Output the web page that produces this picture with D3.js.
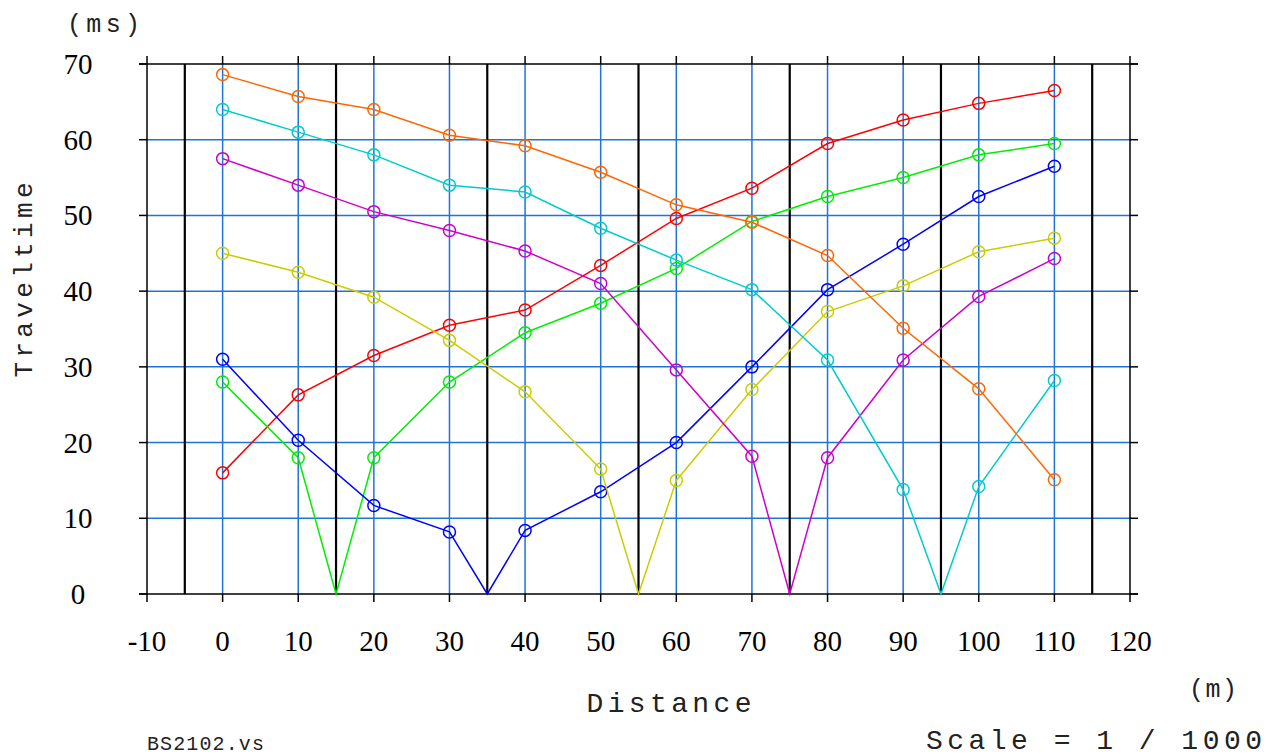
<!DOCTYPE html>
<html><head><meta charset="utf-8">
<script src="https://cdn.jsdelivr.net/npm/d3@7"></script>
<style>body{margin:0;background:#fff}svg{display:block}</style>
</head><body>
<svg id="c" width="1266" height="756"></svg>
<script>
const xTicks = [-10,0,10,20,30,40,50,60,70,80,90,100,110,120];
const yTicks = [0,10,20,30,40,50,60,70];
const shotPoints = [-5,15,35,55,75,95,115];
const gridX = [0,10,20,30,40,50,60,70,80,90,100,110];
const gridY = [10,20,30,40,50,60];

const redX = [0,10,20,30,40,50,60,70,80,90,100,110];
const redY = [16,26.3,31.5,35.5,37.5,43.4,49.6,53.6,59.5,62.6,64.8,66.5];
const greenX = [0,10,15,20,30,40,50,60,70,80,90,100,110];
const greenY = [28,18,0,18,28,34.5,38.4,43,49.2,52.5,55,58,59.5];
const blueX = [0,10,20,30,35,40,50,60,70,80,90,100,110];
const blueY = [31,20.3,11.7,8.2,0,8.4,13.5,20,30,40.2,46.2,52.5,56.5];
const yellowX = [0,10,20,30,40,50,55,60,70,80,90,100,110];
const yellowY = [45,42.5,39.2,33.5,26.7,16.5,0,15,27,37.3,40.7,45.2,47];
const magentaX = [0,10,20,30,40,50,60,70,75,80,90,100,110];
const magentaY = [57.5,54,50.5,48,45.3,41,29.6,18.2,0,18,30.9,39.3,44.3];
const cyanX = [0,10,20,30,40,50,60,70,80,90,95,100,110];
const cyanY = [64,61,58,54,53.1,48.3,44.1,40.2,30.9,13.8,0,14.2,28.2];
const orangeX = [0,10,20,30,40,50,60,70,80,90,100,110];
const orangeY = [68.6,65.7,64,60.6,59.2,55.7,51.4,49.1,44.7,35.1,27.1,15.1];

const series = [
  {x:redX, y:redY, color:"#ff0000"},
  {x:greenX, y:greenY, color:"#00ee00"},
  {x:blueX, y:blueY, color:"#0000ff"},
  {x:yellowX, y:yellowY, color:"#cccc00"},
  {x:magentaX, y:magentaY, color:"#cc00cc"},
  {x:cyanX, y:cyanY, color:"#00cccc"},
  {x:orangeX, y:orangeY, color:"#ff6600"}
];

const svg = d3.select("#c");
const x = d3.scaleLinear().domain([-10,120]).range([147,1130]);
const y = d3.scaleLinear().domain([0,70]).range([594,64]);
const x0 = x(-10), x1 = x(120), y0 = y(0), y1 = y(70);
const stub = 8;
const gridColor = "#1f74d6";

// blue grid
svg.append("g").selectAll("line").data(gridX).join("line")
  .attr("x1", d=>x(d)).attr("x2", d=>x(d)).attr("y1", y1).attr("y2", y0)
  .attr("stroke", gridColor).attr("stroke-width", 1.5);
svg.append("g").selectAll("line").data(gridY).join("line")
  .attr("x1", x0).attr("x2", x1).attr("y1", d=>y(d)).attr("y2", d=>y(d))
  .attr("stroke", gridColor).attr("stroke-width", 1.5);

// tick stubs
const tg = svg.append("g").attr("stroke","#000").attr("stroke-width",1.5);
tg.selectAll(".yl").data(yTicks).join("line")
  .attr("x1", x0-stub).attr("x2", x0).attr("y1", d=>y(d)).attr("y2", d=>y(d));
tg.selectAll(".yr").data(yTicks).join("line").attr("class","yr")
  .attr("x1", x1).attr("x2", x1+stub).attr("y1", d=>y(d)).attr("y2", d=>y(d));
tg.selectAll(".xt").data(xTicks).join("line").attr("class","xt")
  .attr("x1", d=>x(d)).attr("x2", d=>x(d)).attr("y1", y1-stub).attr("y2", y1);
tg.selectAll(".xb").data(xTicks).join("line").attr("class","xb")
  .attr("x1", d=>x(d)).attr("x2", d=>x(d)).attr("y1", y0).attr("y2", y0+stub);

// frame
tg.append("line").attr("x1",x0-stub).attr("x2",x1+stub).attr("y1",y1).attr("y2",y1);
tg.append("line").attr("x1",x0-stub).attr("x2",x1+stub).attr("y1",y0).attr("y2",y0);
tg.append("line").attr("x1",x0).attr("x2",x0).attr("y1",y1).attr("y2",y0);
tg.append("line").attr("x1",x1).attr("x2",x1).attr("y1",y1).attr("y2",y0);

// shot point lines
svg.append("g").selectAll("line").data(shotPoints).join("line")
  .attr("x1", d=>x(d)).attr("x2", d=>x(d)).attr("y1", y1).attr("y2", y0)
  .attr("stroke","#000").attr("stroke-width",2.2);

// series
const line = d3.line().x(d=>x(d[0])).y(d=>y(d[1]));
series.forEach(s=>{
  const pts = s.x.map((v,i)=>[v, s.y[i]]);
  svg.append("path").attr("d", line(pts)).attr("fill","none")
    .attr("stroke", s.color).attr("stroke-width",1.5);
  svg.append("g").selectAll("circle").data(pts.filter(p=>p[1]>0)).join("circle")
    .attr("cx", d=>x(d[0])).attr("cy", d=>y(d[1])).attr("r",6)
    .attr("fill","none").attr("stroke", s.color).attr("stroke-width",1.5);
});

// tick labels
const serif = "'Liberation Serif','Times New Roman',serif";
svg.append("g").selectAll("text").data(yTicks).join("text")
  .attr("x", 78).attr("y", d=>y(d)+10).attr("text-anchor","middle")
  .attr("font-family", serif).attr("font-size", 29).text(d=>d);
svg.append("g").selectAll("text").data(xTicks).join("text")
  .attr("x", d=>x(d)).attr("y", 651).attr("text-anchor","middle")
  .attr("font-family", serif).attr("font-size", 29).text(d=>d);

// mono labels
const mono = "'Liberation Mono','Courier New',monospace";
function mtext(t, xx, yy, fs, len, anchor, rot){
  const e = svg.append("text").attr("font-family", mono).attr("font-size", fs)
    .attr("fill", "#222")
    .attr("textLength", len).attr("lengthAdjust","spacing")
    .attr("text-anchor", anchor||"start").text(t);
  if(rot){ e.attr("transform", `translate(${xx},${yy}) rotate(-90)`); }
  else { e.attr("x", xx).attr("y", yy); }
  return e;
}
mtext("(ms)", 67, 32, 25, 73);
mtext("Traveltime", 32, 280, 26, 195, "middle", true);
mtext("Distance", 669, 712, 28, 165, "middle");
mtext("(m)", 1189, 697, 25, 48);
mtext("BS2102.vs", 147, 750, 20, 117);
mtext("Scale = 1 / 1000", 926, 749, 28, 336);
</script>
</body></html>
